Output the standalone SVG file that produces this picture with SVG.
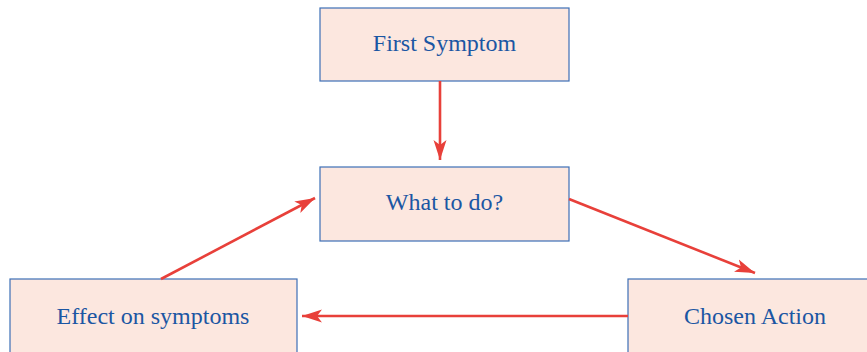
<svg xmlns="http://www.w3.org/2000/svg" width="867" height="352" viewBox="0 0 867 352">
<style>
.box{fill:#fce7df;stroke:#3c6fb6;stroke-width:1.2}
.lbl{font-family:"Liberation Serif",serif;font-size:24px;fill:#1b56a3;text-anchor:middle}
.edge{stroke:#e8403a;stroke-width:2.6;fill:none}
</style>
<defs>
<marker id="ah" markerUnits="userSpaceOnUse" markerWidth="22" markerHeight="16" viewBox="0 0 22 16" refX="20" refY="8" orient="auto">
<path d="M0,1.5 L20,8 L0,14.5 L5,8 Z" fill="#e8403a"/>
</marker>
</defs>
<g id="first-symptom"><rect class="box" x="320" y="8" width="249" height="73"/><text class="lbl" x="444.500" y="51">First Symptom</text></g>
<g id="what-to-do"><rect class="box" x="320" y="167" width="249" height="74"/><text class="lbl" x="444.500" y="210">What to do?</text></g>
<g id="effect"><rect class="box" x="10" y="279" width="287" height="90"/><text class="lbl" x="153" y="324">Effect on symptoms</text></g>
<g id="chosen-action"><rect class="box" x="628" y="279" width="260" height="90"/><text class="lbl" x="755" y="324">Chosen Action</text></g>
<g id="connectors">
<line class="edge" x1="440" y1="81" x2="440" y2="160" marker-end="url(#ah)"/>
<line class="edge" x1="569" y1="199" x2="755" y2="273" marker-end="url(#ah)"/>
<line class="edge" x1="628" y1="316" x2="302" y2="316" marker-end="url(#ah)"/>
<line class="edge" x1="161" y1="279" x2="315" y2="198" marker-end="url(#ah)"/>
</g>
</svg>
